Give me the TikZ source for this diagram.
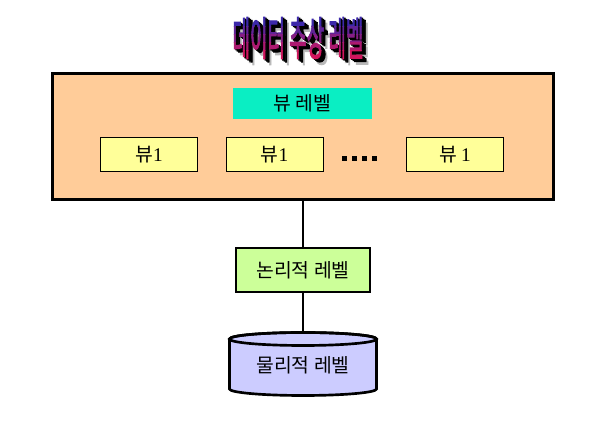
\documentclass[tikz,border=0pt]{standalone}
\usepackage{fontspec}
\newfontfamily\kr{Noto Sans CJK KR}
\newfontfamily\krtitle[FakeBold=2.5]{Noto Sans CJK KR}
\newfontfamily\digit{Liberation Serif}

\definecolor{peach}{RGB}{255,204,153}
\definecolor{aqua}{RGB}{10,238,195}
\definecolor{paleyellow}{RGB}{255,255,153}
\definecolor{palegreen}{RGB}{204,255,153}
\definecolor{lavender}{RGB}{204,204,255}
\definecolor{titletop}{RGB}{60,40,170}
\definecolor{titlebot}{RGB}{215,20,90}

\tikzset{
    levelbox/.style={draw=black, line width=2.25pt, inner sep=0pt},
    labeltext/.style={font=\kr\fontsize{14.5}{17}\selectfont},
    viewbox/.style={draw=black, line width=0.75pt, fill=paleyellow, minimum width=72.75pt, minimum height=25.5pt, inner sep=0pt, labeltext},
    headline/.style={inner sep=0pt, font=\krtitle\fontsize{15}{18}\selectfont},
    dotsq/.style={fill=black, minimum size=3.4pt, inner sep=0pt},
    link/.style={draw=black, line width=1.5pt}
}
\newcommand{\titletext}{\scalebox{0.95}[2.3]{데이터 추상 레벨}}

\begin{document}
\begin{tikzpicture}[x=0.75pt, y=0.75pt]

    % page
    \useasboundingbox (0,0) rectangle (611,431);
    \fill[white] (0,0) rectangle (611,431);

    % title with shadow and extrusion
    \node[headline, text=gray!55] (shadow) at (304,387) {\titletext};
    \foreach \d in {1,2,3}
        \node[headline, text=black] (depth\d) at ({298+\d*1.4},{393-\d*1.1}) {\titletext};
    \foreach \i in {0,...,4} {
        \pgfmathtruncatemacro{\pct}{100-24*\i}
        \pgfmathsetmacro{\ytop}{\i==0 ? 431 : 412-\i*8}
        \pgfmathsetmacro{\ybot}{\i==4 ? 340 : 412-(\i+1)*8}
        \begin{scope}
            \clip (200,\ytop) rectangle (400,\ybot);
            \node[headline, text=titletop!\pct!titlebot] (face\i) at (298,393) {\titletext};
        \end{scope}
    }

    % external level
    \node[levelbox, fill=peach, minimum width=375.75pt, minimum height=94.5pt] (external) at (303,294) {};
    \node[fill=aqua, minimum width=104.25pt, minimum height=23.25pt, inner sep=0pt, labeltext] (viewlevel) at (302.5,327.5) {뷰 레벨};

    \node[viewbox] (view1) at (149,276) {뷰{\digit 1}};
    \node[viewbox] (view2) at (274.5,276) {뷰{\digit 1}};
    \node[viewbox] (view3) at (455,276) {뷰 {\digit 1}};
    \foreach \k in {0,...,3}
        \node[dotsq] (dot\k) at ({344.5+\k*10},272.5) {};

    % conceptual level
    \node[levelbox, line width=2pt, fill=palegreen, minimum width=100.5pt, minimum height=33pt, labeltext] (logical) at (303,161) {논리적 레벨};

    % internal level drum
    \filldraw[fill=lavender, draw=black, line width=2pt]
        (229.5,92) -- (229.5,42) arc[start angle=180, end angle=360, x radius=73.5, y radius=6.5]
        -- (376.5,92) arc[start angle=0, end angle=180, x radius=73.5, y radius=6.5] -- cycle;
    \draw[black, line width=2pt] (303,92) ellipse[x radius=73.5, y radius=6.5];
    \coordinate (drumtop) at (303,98.5);
    \node[labeltext] (physical) at (303,66) {물리적 레벨};

    \draw[link] (external.south) -- (logical.north);
    \draw[link] (logical.south) -- (drumtop);

\end{tikzpicture}
\end{document}
